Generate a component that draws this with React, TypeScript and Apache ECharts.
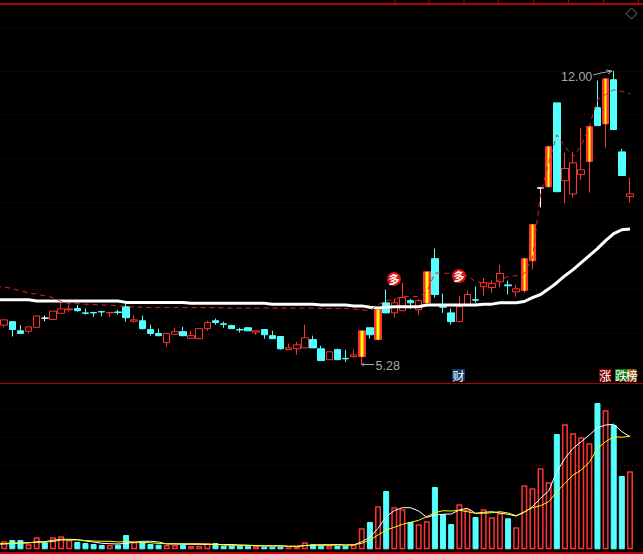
import React, { useEffect, useRef } from "react";
import * as echarts from "echarts";

// Daily prices (yuan)
const opens = [6.19,6.27,6.06,6.05,6.14,6.35,6.32,6.46,6.54,6.57,6.47,6.48,6.50,6.47,6.49,6.61,6.28,6.29,6.09,6.00,5.79,5.98,6.04,5.89,5.88,6.11,6.29,6.22,6.18,6.09,6.13,6.03,6.09,5.95,5.93,5.63,5.65,5.67,5.86,5.65,5.40,5.63,5.43,5.47,5.47,6.13,5.86,6.70,6.47,6.52,6.75,6.54,6.70,7.71,6.61,6.47,6.27,6.66,6.77,7.07,7.05,7.18,7.11,6.95,6.98,7.66,9.32,9.35,11.27,9.49,9.19,9.63,9.93,11.16,10.79,11.80,10.15,9.13];
const closes = [6.31,6.09,6.00,6.15,6.40,6.35,6.51,6.56,6.56,6.52,6.46,6.47,6.49,6.48,6.48,6.36,6.31,6.11,6.00,5.95,6.00,6.04,5.95,5.95,6.11,6.25,6.25,6.21,6.11,6.08,6.06,6.06,5.97,5.88,5.65,5.67,5.74,5.90,5.67,5.38,5.58,5.40,5.42,5.51,6.06,5.97,6.54,6.47,6.70,6.82,6.70,6.75,7.41,6.89,6.60,6.27,6.61,6.89,6.76,7.16,7.14,7.37,7.09,7.02,7.71,8.49,9.33,10.27,9.24,9.77,9.90,9.74,10.73,10.75,11.82,10.66,9.61,9.19];
const lows = [6.14,5.93,6.00,6.01,6.14,6.28,6.32,6.46,6.50,6.50,6.43,6.38,6.39,6.37,6.43,6.27,6.25,6.09,5.95,5.93,5.70,5.98,5.93,5.89,5.88,6.06,6.20,6.13,6.11,6.02,6.06,5.97,5.88,5.88,5.63,5.63,5.51,5.67,5.67,5.38,5.40,5.40,5.35,5.45,5.28,5.88,5.86,6.47,6.36,6.52,6.57,6.43,6.70,6.82,6.47,6.20,6.27,6.66,6.70,6.86,6.93,7.05,6.89,6.84,6.93,7.46,8.88,9.35,9.24,8.97,9.10,9.51,9.22,10.75,10.25,10.66,9.61,8.99];
const highs = [6.31,6.27,6.19,6.15,6.40,6.41,6.51,6.71,6.66,6.65,6.57,6.48,6.52,6.48,6.54,6.70,6.41,6.41,6.20,6.11,6.00,6.13,6.15,6.06,6.11,6.29,6.34,6.27,6.20,6.13,6.15,6.06,6.09,6.06,5.93,5.77,5.81,6.20,5.95,5.72,5.58,5.65,5.63,5.63,6.06,6.13,6.54,7.00,6.79,7.16,6.79,6.79,7.41,7.94,6.91,6.57,6.86,6.98,7.07,7.27,7.21,7.57,7.21,7.11,7.71,8.49,9.33,10.27,11.27,10.13,10.15,10.70,10.73,11.78,11.82,12.00,10.22,9.56];

// Price averages: the first value of each sits just before the first candle
const longAverage = [6.77,6.77,6.77,6.77,6.77,6.74,6.74,6.74,6.74,6.74,6.74,6.74,6.74,6.74,6.74,6.74,6.71,6.71,6.71,6.71,6.71,6.71,6.71,6.71,6.69,6.69,6.69,6.69,6.69,6.69,6.69,6.69,6.69,6.69,6.67,6.67,6.67,6.67,6.67,6.67,6.65,6.65,6.65,6.65,6.63,6.63,6.60,6.58,6.60,6.61,6.61,6.61,6.61,6.65,6.65,6.65,6.65,6.65,6.65,6.65,6.67,6.67,6.70,6.70,6.70,6.73,6.82,6.89,7.02,7.16,7.32,7.46,7.62,7.78,7.94,8.12,8.28,8.37,8.39];
const shortAverage = [7.07,7.06,7.03,6.97,6.93,6.90,6.86,6.82,6.73,6.68,6.68,6.67,6.66,6.65,6.65,6.63,6.62,6.60,6.60,6.59,6.59,6.59,6.59,6.59,6.59,6.59,6.59,6.59,6.58,6.58,6.58,6.58,6.58,6.58,6.58,6.58,6.58,6.58,6.58,6.58,6.57,6.57,6.57,6.57,6.56,6.54,6.52,6.66,6.75,6.78,6.84,6.85,6.84,6.95,7.38,7.38,7.37,7.34,7.32,7.18,7.16,7.15,7.23,7.30,7.32,7.37,7.73,9.17,9.90,10.54,10.27,10.04,10.29,10.73,11.34,11.46,11.57,11.53,11.48];

// Volume, in the picture's own units
const volumes = [8,9.3,9.3,5,12,7,12,13,9.3,7.3,6.3,5.3,4.3,4.3,4.6,14.3,7.3,7,5.3,4.6,4.3,4.3,4.3,3.3,3.6,6,6.3,3.6,3.6,3.6,3.6,3.3,2.6,2.6,2.6,2,2.6,7,5,3.6,3.6,3.6,3.6,4.6,21,27.3,43,58.3,42,40,27.3,25,28,62.3,35,25.3,45,40,32.3,40,32,36.3,31,22,64,61,81,67,115.3,125,116,112,106,146.3,139,124.3,73.3,78];
const volumeFast = [5.3,5.8,6.3,6.3,7.6,7.6,9,10,10,9.8,8.3,7.3,6,5.6,5.3,6,7,8,8,7.3,5.3,5.3,5,5,5,4.8,4.8,4.8,4.8,4.3,4,3.6,3.3,3.3,3.3,3,3,3.8,4.3,4.6,4.6,4.8,4.3,4.3,7.6,12,21,32.6,38.6,41.6,41.6,38.3,32,34.3,35,35.3,39.3,41,36,37,37.6,36.3,35,33.3,37,42.6,51,58.3,77.6,91,101,107.6,114.3,121.6,124.3,125,117.6,112.6];
const volumeSlow = [5.6,6.3,6.3,6.8,6.8,7.3,7.8,9.3,9.3,9.3,8.8,8.3,8,8,7.3,7.8,7.3,6.8,6.6,5.8,5.6,5.6,5.6,5.6,5.6,5.3,5,4.3,4,4,4,3.8,3.6,3.6,3.6,3,3,3.6,4,4,4,4.3,4.3,4.6,6,9.3,14.3,19.3,22,25,27,29,32.6,36.6,38.6,38.3,39,37.6,36,36,36.6,37.6,36.3,33.6,37.6,41.6,43.6,47.6,57.6,66,74.3,79.3,87,101,107.6,112.6,112,113.3];

const limitUpDays = [44, 46, 52, 64, 65, 67, 72, 74];
const whiteDays = [5, 66];
const lowLabel = "5.28";
const highLabel = "12.00";
const signalGlyph = "多";
const topTicks = [394.5, 428.5, 463.5, 498, 533, 568, 603, 638];

const RED = "#ff3232";
const CYAN = "#54ffff";
const YELLOW = "#ffff00";
const DIM = "#700000";
const LINE = "#b00000";
const GREY = "#a8a8a8";

const STEP = 8.127;
const LEAD = 8; // the chart starts one band left of the page, so the averages run in from the edge
const blanks = (v: any) => [v];

function buildOption() {
  const n = opens.length;
  const categories = Array.from({ length: n + 2 }, (_, i) => String(i));
  const candle = opens.map((o, i) => {
    const value = [o, closes[i], lows[i], highs[i]];
    if (whiteDays.includes(i)) {
      return { value, itemStyle: { color: "#fff", color0: "#fff", borderColor: "#fff", borderColor0: "#fff", borderColorDoji: "#fff" } };
    }
    if (limitUpDays.includes(i)) {
      return { value, itemStyle: { color: RED, borderColor: RED } };
    }
    return { value };
  });
  const core = opens.map((o, i) =>
    limitUpDays.includes(i)
      ? [o, closes[i], Math.min(o, closes[i]), Math.max(o, closes[i])]
      : ["-", "-", "-", "-"]
  );
  const bars = volumes.map((v, i) => ({
    value: v,
    itemStyle:
      closes[i] > opens[i]
        ? { color: "#000", borderColor: RED, borderWidth: 1.5 }
        : { color: CYAN, borderColor: CYAN, borderWidth: 1 },
  }));
  const dotted = { show: true, lineStyle: { color: DIM, type: [1, 3] as any, width: 1 } };
  const hiddenX = (gridIndex: number) => ({
    type: "category" as const,
    gridIndex,
    data: categories,
    axisLine: { show: false },
    axisTick: { show: false },
    axisLabel: { show: false },
    splitLine: { show: false },
  });
  const line = (name: string, data: any[], color: string, width: number, xAxisIndex: number, extra: any = {}) => ({
    name,
    type: "line" as const,
    data,
    xAxisIndex,
    yAxisIndex: xAxisIndex,
    showSymbol: false,
    symbol: "none",
    lineStyle: { color, width, ...extra },
    silent: true,
    z: 5,
  });
  const labelStyle = { fill: GREY, fontFamily: "Liberation Sans", fontSize: 12.5 };
  const arrow = { stroke: GREY, lineWidth: 1, fill: "none" };
  const badge = (x: number, y: number) => [
    { type: "circle", shape: { cx: x, cy: y, r: 7 }, style: { fill: "#e01010" }, z: 20 },
    { type: "text", x, y, style: { text: signalGlyph, fill: "#fff", fontFamily: "Noto Sans CJK SC", fontSize: 11, fontWeight: "bold", align: "center", verticalAlign: "middle" }, z: 21 },
  ];
  const tag = (x: number, w: number, fill: string, text: string) => [
    { type: "rect", shape: { x, y: 369, width: w, height: 12 }, style: { fill }, z: 20 },
    { type: "text", x: x + w / 2, y: 375, style: { text, fill: "#fff", fontFamily: "Noto Sans CJK SC", fontSize: 12, align: "center", verticalAlign: "middle" }, z: 21 },
  ];
  return {
    animation: false,
    backgroundColor: "#000",
    grid: [
      { left: 0, width: STEP * (n + 2), top: 27.2, height: 350 },
      { left: 0, width: STEP * (n + 2), top: 381.3, height: 168 },
    ],
    xAxis: [hiddenX(0), hiddenX(1)],
    yAxis: [
      {
        type: "value", gridIndex: 0, min: 5, max: 13, interval: 1, scale: true,
        axisLine: { show: false }, axisTick: { show: false }, axisLabel: { show: false },
        splitLine: { ...dotted, showMinLine: false },
      },
      {
        type: "value", gridIndex: 1, min: 0, max: 168, interval: 28,
        axisLine: { show: false }, axisTick: { show: false }, axisLabel: { show: false },
        splitLine: { ...dotted, showMinLine: false, showMaxLine: false },
      },
    ],
    series: [
      {
        name: "K", type: "candlestick", xAxisIndex: 0, yAxisIndex: 0, barWidth: 7,
        data: [...blanks(["-", "-", "-", "-"]), ...candle],
        itemStyle: { color: "#000", color0: CYAN, borderColor: RED, borderColor0: CYAN, borderColorDoji: CYAN, borderWidth: 1 },
        silent: true, z: 2,
      },
      {
        name: "LimitUp", type: "candlestick", xAxisIndex: 0, yAxisIndex: 0, barWidth: 3,
        data: [...blanks(["-", "-", "-", "-"]), ...core],
        itemStyle: { color: YELLOW, color0: YELLOW, borderColor: YELLOW, borderColor0: YELLOW, borderColorDoji: YELLOW, borderWidth: 0 },
        silent: true, z: 3,
      },
      line("MA long", longAverage, "#fff", 3, 0),
      line("MA short", shortAverage, "#e62020", 1, 0, { type: [5, 4] }),
      {
        name: "Volume", type: "bar", xAxisIndex: 1, yAxisIndex: 1, barWidth: 6,
        data: [...blanks("-"), ...bars], silent: true, z: 2,
      },
      line("Volume fast", [...blanks(volumeFast[0]), ...volumeFast], "#fff", 1, 1),
      line("Volume slow", [...blanks(volumeSlow[0]), ...volumeSlow], YELLOW, 1, 1),
    ],
    graphic: [
      {
        type: "group",
        x: LEAD,
        y: 0,
        children: [
          { type: "rect", shape: { x: 0, y: 3, width: 643, height: 2 }, style: { fill: LINE }, z: 10 },
          ...topTicks.map((x) => ({ type: "rect", shape: { x, y: 0, width: 1, height: 4 }, style: { fill: LINE }, z: 10 })),
          { type: "rect", shape: { x: 0, y: 383, width: 643, height: 1 }, style: { fill: LINE }, z: 10 },
          { type: "rect", shape: { x: 0, y: 552, width: 643, height: 2 }, style: { fill: "#c00000" }, z: 10 },
          { type: "polygon", shape: { points: [[631.5, 8], [637, 13.5], [631.5, 19], [626, 13.5]] }, style: { fill: "none", stroke: "#777", lineWidth: 1 }, z: 10 },
          { type: "text", x: 561, y: 76.5, style: { text: highLabel, ...labelStyle, verticalAlign: "middle" }, z: 20 },
          { type: "polyline", shape: { points: [[593, 75], [601, 73], [612, 71]] }, style: arrow, z: 20 },
          { type: "polyline", shape: { points: [[606, 70], [612, 71], [608, 74]] }, style: arrow, z: 20 },
          { type: "text", x: 375.5, y: 366, style: { text: lowLabel, ...labelStyle, verticalAlign: "middle" }, z: 20 },
          { type: "polyline", shape: { points: [[374, 364.5], [362, 364.5]] }, style: arrow, z: 20 },
          { type: "polyline", shape: { points: [[364, 362.5], [362, 364.5], [364, 366.5]] }, style: arrow, z: 20 },
          ...badge(394, 279),
          ...badge(459, 276),
          ...tag(452, 13, "#0a3a70", "财"),
          ...tag(599, 12.5, "#800000", "涨"),
          ...tag(615, 12, "#0c7a10", "跌"),
          ...tag(627, 9.5, "#8a5a10", "榜"),
        ],
      },
    ],
  };
}

export default function App() {
  const ref = useRef<HTMLDivElement>(null);
  useEffect(() => {
    document.body.style.margin = "0";
    document.body.style.background = "#000";
    const chart = echarts.init(ref.current!, null, { renderer: "svg" });
    chart.setOption(buildOption() as any);
    return () => chart.dispose();
  }, []);
  return (
    <div style={{ width: 643, height: 554, overflow: "hidden", position: "relative" }}>
      <div ref={ref} style={{ position: "absolute", left: -LEAD, top: 0, width: 643 + LEAD, height: 554 }} />
    </div>
  );
}
